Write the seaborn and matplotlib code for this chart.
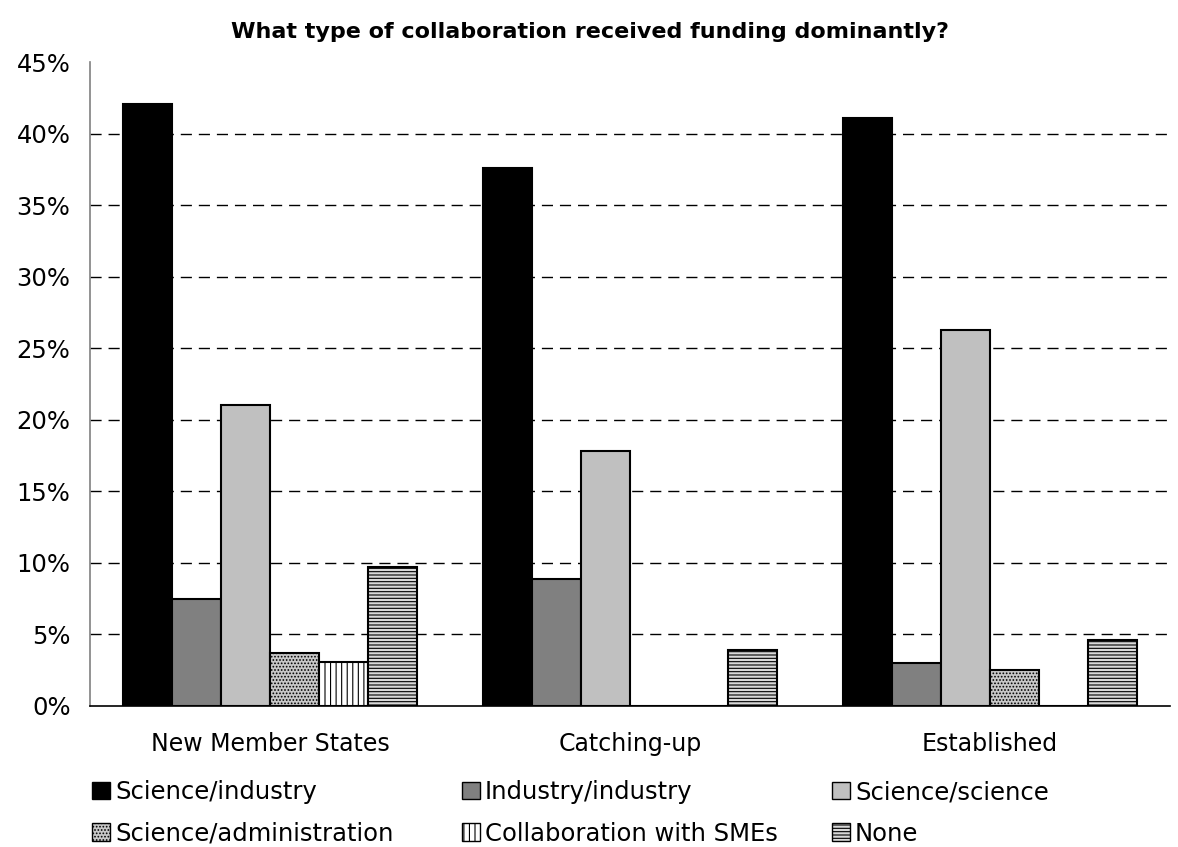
import matplotlib
matplotlib.use("Agg")
import matplotlib.pyplot as plt
from matplotlib.patches import Patch
import seaborn as sns
import pandas as pd

groups = ["New Member States", "Catching-up", "Established"]
series = ["Science/industry", "Industry/industry", "Science/science",
          "Science/administration", "Collaboration with SMEs", "None"]
science_industry = [42.1, 37.6, 41.1]
industry_industry = [7.5, 8.9, 3.0]
science_science = [21.0, 17.8, 26.3]
science_admin = [3.7, 0.0, 2.5]
collab_smes = [3.1, 0.0, 0.0]
none_vals = [9.7, 3.9, 4.6]
yticks = [0, 5, 10, 15, 20, 25, 30, 35, 40, 45]

values = [science_industry, industry_industry, science_science,
          science_admin, collab_smes, none_vals]
rows = []
for s, vals in zip(series, values):
    for g, v in zip(groups, vals):
        rows.append({"group": g, "series": s, "value": v})
df = pd.DataFrame(rows)

colors = ["#000000", "#808080", "#c0c0c0", "#c8c8c8", "#ffffff", "#d8d8d8"]
hatches = [None, None, None, ".....", "|||", "-----"]

sns.set_style("white")
plt.rcParams["font.family"] = ["DejaVu Sans"]
plt.rcParams["text.color"] = "black"
plt.rcParams["xtick.color"] = "black"
plt.rcParams["ytick.color"] = "black"
plt.rcParams["hatch.linewidth"] = 0.8
plt.rcParams["hatch.color"] = "#808080"

fig = plt.figure(figsize=(11.78, 8.47), dpi=100)
ax = fig.add_axes([0.0764, 0.1665, 0.9166, 0.7603])

sns.barplot(data=df, x="group", y="value", hue="series", order=groups,
            hue_order=series, palette=colors, width=0.817, ax=ax,
            edgecolor="black", linewidth=1.5, legend=False, saturation=1)

n = len(groups)
for i, p in enumerate(ax.patches[:len(series) * n]):
    si = i // n
    if hatches[si]:
        p.set_hatch(hatches[si])

ax.set_ylim(0, 45)
ax.set_xlim(-0.5, 2.5)
ax.set_yticks(yticks)
ax.set_yticklabels([f"{t}%" for t in yticks], fontsize=17.5)
ax.tick_params(axis="x", labelsize=17, length=0, pad=19, labelcolor="black")
ax.tick_params(axis="y", length=0, pad=14, labelcolor="black")
ax.set_xlabel("")
ax.set_ylabel("")

ax.yaxis.grid(True, color="black", linestyle=(0, (8, 5)), linewidth=1)
ax.set_axisbelow(True)
for t, v in zip(ax.yaxis.get_major_ticks(), yticks):
    if v in (0, 45):
        t.gridline.set_visible(False)

for s in ["top", "right"]:
    ax.spines[s].set_visible(False)
ax.spines["left"].set_color("#808080")
ax.spines["left"].set_linewidth(1.2)
ax.spines["bottom"].set_color("black")
ax.spines["bottom"].set_linewidth(1.2)

fig.text(0.501, 0.962, "What type of collaboration received funding dominantly?",
         ha="center", va="center", fontsize=16, fontweight="bold",
         color="black")

handles = [Patch(facecolor=c, edgecolor="black", hatch=h, linewidth=1)
           for c, h in zip(colors, hatches)]
col_x = [92, 462, 832]
col_items = [[0, 3], [1, 4], [2, 5]]
for cx, items in zip(col_x, col_items):
    fig.legend([handles[i] for i in items], [series[i] for i in items],
               loc="upper left", bbox_to_anchor=(cx / 1178, 1 - 780 / 847),
               frameon=False, fontsize=17.5, handlelength=0.75,
               handleheight=0.75, handletextpad=0.2, borderpad=0,
               borderaxespad=0, labelspacing=0.72)

fig.savefig("out.png", dpi=100)
